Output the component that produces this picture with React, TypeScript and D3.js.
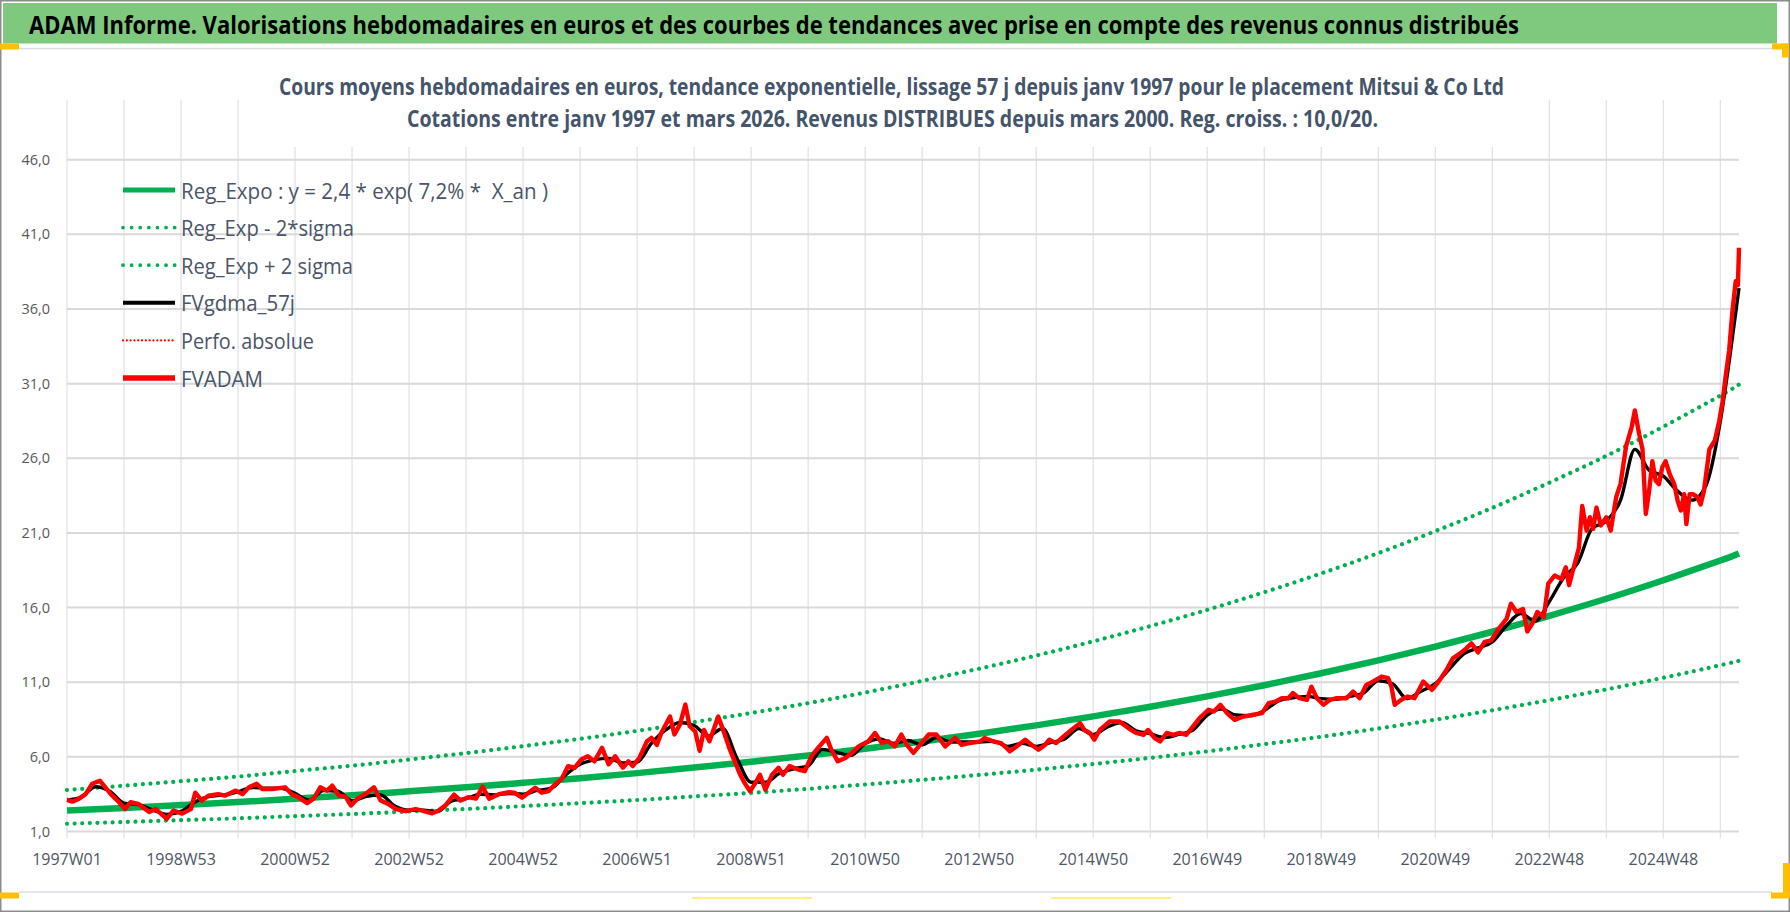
import * as d3 from "d3";

// ADAM weekly valuation chart (Mitsui & Co Ltd), rebuilt with d3 scales and shapes

const N_WEEKS = 1526; // 1997W01 .. mars 2026
const TICK_STEP = 52;
const LABEL_STEP = 104;
const Y_MIN = 1;
const Y_MAX = 50;

const xTickLabels = [
  "1997W01", "1998W53", "2000W52", "2002W52", "2004W52", "2006W51", "2008W51", "2010W50",
  "2012W50", "2014W50", "2016W49", "2018W49", "2020W49", "2022W48", "2024W48",
];
const yTicks = [1, 6, 11, 16, 21, 26, 31, 36, 41, 46];

const legendLabels = [
  "Reg_Expo : y = 2,4 * exp( 7,2% *  X_an )",
  "Reg_Exp - 2*sigma",
  "Reg_Exp + 2 sigma",
  "FVgdma_57j",
  "Perfo. absolue",
  "FVADAM",
];

// trend curves, read at every yearly gridline (week 0, 52, ...) and at the last week
const trendWeeks = [...d3.range(0, N_WEEKS, TICK_STEP), N_WEEKS - 1];
const regExpo = [
  2.4, 2.58, 2.77, 2.97, 3.2, 3.43, 3.69, 3.96, 4.26, 4.57, 4.91, 5.28, 5.67, 6.09, 6.54, 7.03,
  7.55, 8.11, 8.71, 9.36, 10.05, 10.8, 11.6, 12.46, 13.39, 14.38, 15.45, 16.59, 17.83, 19.15, 19.62,
];
const regExpLow = [
  1.52, 1.64, 1.76, 1.88, 2.03, 2.17, 2.34, 2.51, 2.7, 2.9, 3.11, 3.35, 3.59, 3.86, 4.15, 4.46,
  4.79, 5.14, 5.52, 5.93, 6.37, 6.85, 7.35, 7.9, 8.49, 9.12, 9.8, 10.52, 11.3, 12.14, 12.44,
];
const regExpHigh = [
  3.78, 4.07, 4.37, 4.68, 5.05, 5.41, 5.82, 6.25, 6.72, 7.21, 7.74, 8.33, 8.94, 9.6, 10.31, 11.09,
  11.91, 12.79, 13.74, 14.76, 15.85, 17.03, 18.29, 19.65, 21.12, 22.68, 24.37, 26.16, 28.12, 30.2, 30.94,
];

// FVADAM: [week index, value]
const fvadam: [number, number][] = [
  [0, 3.12], [5, 3.0], [11, 3.2], [17, 3.5], [23, 4.2], [30, 4.4], [35, 3.96], [40, 3.5], [46, 3.07],
  [53, 2.5], [58, 2.96], [65, 2.85], [75, 2.3], [81, 2.5], [91, 1.85], [97, 2.4], [105, 2.2],
  [113, 2.5], [117, 3.6], [123, 3.07], [129, 3.4], [138, 3.5], [144, 3.4], [154, 3.74], [160, 3.5],
  [166, 3.96], [173, 4.2], [178, 3.85], [187, 3.85], [199, 3.96], [205, 3.5], [211, 3.3], [219, 2.9],
  [225, 3.2], [231, 3.96], [237, 3.74], [242, 4.07], [248, 3.4], [254, 3.34], [259, 2.74], [265, 3.2],
  [272, 3.5], [280, 3.96], [286, 3.07], [293, 2.85], [300, 2.5], [309, 2.36], [318, 2.5], [324, 2.4],
  [333, 2.22], [339, 2.4], [345, 2.74], [353, 3.47], [359, 3.07], [366, 3.3], [373, 3.2], [379, 4.0],
  [385, 3.2], [394, 3.5], [403, 3.63],
  [408, 3.6], [415, 3.26], [427, 3.93], [433, 3.6], [439, 3.7], [445, 4.15], [451, 4.5], [457, 5.38],
  [463, 5.27], [469, 5.82], [475, 6.04], [481, 5.7], [488, 6.6], [494, 5.5], [500, 6.04], [507, 5.27],
  [512, 5.7], [516, 5.38], [522, 5.93], [529, 7.05], [533, 7.27], [538, 6.8], [542, 7.6], [550, 8.7],
  [554, 7.5], [559, 8.16], [564, 9.5], [568, 8.05], [573, 7.7], [577, 6.4], [581, 7.8], [586, 7.05],
  [594, 8.7], [598, 7.9], [604, 6.6], [609, 5.7], [614, 4.8], [618, 4.26], [623, 3.7], [628, 4.26],
  [632, 4.8], [637, 3.8], [643, 4.8], [649, 5.27], [653, 4.8], [659, 5.38], [667, 5.15], [673, 5.04],
  [679, 6.04], [685, 6.6], [693, 7.27], [697, 6.5], [703, 5.7], [710, 5.93], [716, 6.27], [722, 6.7],
  [731, 7.05], [737, 7.6], [743, 6.94], [749, 7.05], [755, 6.7], [761, 7.5], [766, 6.8], [772, 6.27],
  [778, 6.8], [786, 7.5], [793, 7.5], [801, 6.7], [810, 7.27], [816, 6.8],
  [823, 6.92], [833, 7.03], [837, 7.26], [845, 7.03], [852, 6.92], [857, 6.59], [860, 6.37], [866, 6.7],
  [874, 7.15], [880, 6.8], [886, 6.48], [892, 6.8], [896, 7.15], [902, 6.92], [909, 7.37], [916, 7.8],
  [924, 8.26], [928, 7.8], [933, 7.6], [937, 7.15], [942, 7.8], [951, 8.37], [960, 8.37], [968, 7.93],
  [975, 7.6], [982, 7.48], [986, 7.8], [992, 7.26], [997, 7.03], [1003, 7.6], [1009, 7.48], [1015, 7.6],
  [1021, 7.48], [1027, 8.04], [1033, 8.6], [1041, 9.15], [1046, 9.04], [1052, 9.49], [1058, 8.93],
  [1065, 8.48], [1073, 8.7], [1082, 8.82], [1090, 8.93], [1096, 9.6], [1102, 9.7], [1108, 9.93],
  [1114, 9.93], [1118, 10.27], [1124, 9.93], [1131, 9.82], [1135, 10.7], [1140, 9.93], [1146, 9.49],
  [1152, 9.82], [1158, 9.93], [1167, 9.93], [1173, 10.38], [1179, 9.93], [1185, 10.82], [1191, 11.04],
  [1199, 11.38], [1205, 11.27], [1208, 10.7], [1211, 9.49], [1217, 9.82], [1223, 10.04], [1229, 9.93],
  [1237, 11.04], [1245, 10.49], [1251, 11.04],
  [1258, 11.8], [1264, 12.6], [1270, 12.9], [1276, 13.25], [1281, 13.6], [1287, 13.0], [1293, 13.7],
  [1299, 13.8], [1305, 14.5], [1313, 15.25], [1317, 16.26], [1322, 15.7], [1328, 15.9], [1332, 14.4],
  [1337, 15.0], [1341, 15.7], [1347, 15.37], [1351, 17.6], [1357, 18.15], [1363, 17.9], [1367, 18.7],
  [1370, 17.5], [1375, 18.9], [1379, 20.0], [1382, 22.8], [1386, 21.15], [1389, 22.05], [1392, 21.27],
  [1395, 22.7], [1399, 21.5], [1404, 22.05], [1408, 21.15], [1413, 23.4], [1417, 24.3], [1422, 26.8],
  [1427, 28.06], [1430, 29.2], [1434, 27.6], [1437, 26.6], [1440, 22.27], [1443, 23.8], [1446, 25.8],
  [1449, 24.5], [1452, 24.27], [1455, 25.4], [1458, 25.8], [1462, 24.9], [1466, 24.27], [1469, 23.16],
  [1472, 22.5], [1475, 23.6], [1477, 21.6], [1480, 23.6], [1483, 23.6], [1487, 23.4], [1490, 22.9],
  [1493, 23.8], [1498, 26.6], [1503, 27.2], [1507, 28.5], [1510, 29.8], [1513, 31.6], [1516, 33.2],
  [1519, 35.85], [1522, 37.86], [1524, 37.6], [1525, 40.1],
];

// FVgdma_57j (smoothed curve, mostly hidden under FVADAM)
const fvgdma: [number, number][] = [
  [0, 3.1], [13, 3.3], [26, 4.0], [39, 3.7], [52, 2.9], [65, 2.8], [78, 2.45], [91, 2.15],
  [104, 2.35], [117, 3.0], [130, 3.35], [143, 3.45], [156, 3.65], [169, 3.95], [182, 3.9],
  [195, 3.9], [208, 3.55], [221, 3.1], [234, 3.75], [247, 3.7], [260, 3.05], [273, 3.35],
  [286, 3.45], [299, 2.7], [312, 2.42], [325, 2.42], [338, 2.35], [351, 3.05], [364, 3.2],
  [377, 3.5], [390, 3.45], [403, 3.55], [416, 3.5], [429, 3.75], [442, 3.9], [455, 4.8],
  [468, 5.5], [481, 5.8], [494, 5.9], [507, 5.6], [520, 5.65], [533, 6.9], [546, 7.8], [559, 8.3],
  [572, 8.1], [585, 7.4], [598, 7.9], [611, 5.9], [624, 4.3], [637, 4.3], [650, 4.9], [663, 5.2],
  [676, 5.4], [689, 6.5], [702, 6.3], [715, 6.1], [728, 6.9], [741, 7.2], [754, 6.9], [767, 7.1],
  [780, 6.8], [793, 7.3], [806, 7.0], [819, 7.0], [832, 7.0], [845, 7.05], [858, 6.7], [871, 6.9],
  [884, 6.7], [897, 6.95], [910, 7.2], [923, 7.9], [936, 7.5], [949, 8.0], [962, 8.3], [975, 7.75],
  [988, 7.55], [1001, 7.3], [1014, 7.5], [1027, 7.8], [1040, 8.8], [1053, 9.2], [1066, 8.8],
  [1079, 8.75], [1092, 9.1], [1105, 9.75], [1118, 9.95], [1131, 10.05], [1144, 9.9], [1157, 9.85],
  [1170, 10.05], [1183, 10.3], [1196, 11.1], [1209, 10.9], [1222, 9.9], [1235, 10.4], [1248, 10.9],
  [1261, 11.9], [1274, 12.9], [1287, 13.3], [1300, 13.7], [1313, 14.8], [1326, 15.6], [1339, 15.1],
  [1352, 16.4], [1365, 18.0], [1378, 19.0], [1391, 21.3], [1404, 21.8], [1417, 23.2], [1430, 26.6],
  [1443, 25.2], [1456, 24.8], [1469, 23.8], [1482, 23.2], [1495, 24.2], [1508, 28.5], [1517, 33.0],
  [1525, 37.4],
];

const W = 1790;
const H = 912;
const PLOT = { left: 67, right: 1739, top: 100, bottom: 831.5 };

const GREEN = "#00B050";
const RED = "#FF0000";
const FONT = "'Open Sans', 'Noto Sans', sans-serif";

const frFormat = d3.formatLocale({
  decimal: ",",
  thousands: " ",
  grouping: [3],
  currency: ["", " €"],
}).format(".1f");

const App = () => {
  const x = d3.scaleLinear().domain([0, N_WEEKS - 1]).range([PLOT.left, PLOT.right]);
  const y = d3.scaleLinear().domain([Y_MIN, Y_MAX]).range([PLOT.bottom, PLOT.top]);

  const rawLine = d3
    .line<[number, number]>()
    .x((d) => x(d[0]))
    .y((d) => y(d[1]));
  const curveLine = d3
    .line<[number, number]>()
    .x((d) => x(d[0]))
    .y((d) => y(d[1]))
    .curve(d3.curveNatural);
  const smoothLine = d3
    .line<[number, number]>()
    .x((d) => x(d[0]))
    .y((d) => y(d[1]))
    .curve(d3.curveMonotoneX);

  const toPairs = (vals: number[]) => trendWeeks.map((w, i) => [w, vals[i]] as [number, number]);

  const gridWeeks = d3.range(0, N_WEEKS, TICK_STEP);
  const labelWeeks = d3.range(0, N_WEEKS, LABEL_STEP);

  // legend swatches
  const legendRowY = (i: number) => 190 + i * 37.6;
  const legendTextLen = [367, 173, 172, 114, 133, 82];
  const swatch = [
    { stroke: GREEN, width: 5, dash: undefined, cap: "butt" },
    { stroke: GREEN, width: 3.8, dash: "0.01 8.6", cap: "round" },
    { stroke: GREEN, width: 3.8, dash: "0.01 8.6", cap: "round" },
    { stroke: "#000", width: 4, dash: undefined, cap: "butt" },
    { stroke: RED, width: 2.2, dash: "0.01 3.8", cap: "round" },
    { stroke: RED, width: 5.5, dash: undefined, cap: "butt" },
  ];

  return (
    <svg
      width={W}
      height={H}
      viewBox={`0 0 ${W} ${H}`}
      style={{ position: "absolute", left: 0, top: 0, display: "block", fontFamily: FONT }}
    >
      <rect x={0} y={0} width={W} height={H} fill="#fff" />
      <rect x={0.75} y={0.75} width={W - 1.5} height={H - 1.5} fill="none" stroke="#8c8c8c" strokeWidth={1.5} />

      {/* green header */}
      <rect x={3} y={3} width={1774} height={40.5} fill="#7fc97f" />
      <text
        x={29}
        y={34}
        fontSize={25}
        fontWeight={700}
        fill="#000"
        textLength={1490}
        lengthAdjust="spacingAndGlyphs"
      >
        ADAM Informe. Valorisations hebdomadaires en euros et des courbes de tendances avec prise en compte des revenus connus distribués
      </text>

      {/* chart area borders and selection marks */}
      <line x1={19} x2={1772} y1={48.5} y2={48.5} stroke="#d9dde3" strokeWidth={1.5} />
      <line x1={19} x2={1772} y1={892} y2={892} stroke="#d9dde3" strokeWidth={1.5} />
      <rect x={0} y={43.5} width={19} height={6} fill="#FFC000" />
      <rect x={1772} y={43.5} width={17} height={6} fill="#FFC000" />
      <rect x={1782} y={43.5} width={7} height={14} fill="#FFC000" />
      <rect x={0} y={892.5} width={19} height={6} fill="#FFC000" />
      <rect x={1771} y={892.5} width={19} height={6} fill="#FFC000" />
      <rect x={1783} y={863} width={7} height={35} fill="#FFC000" />
      <line x1={692} x2={812} y1={898} y2={898} stroke="#fff27a" strokeWidth={2} />
      <line x1={1051} x2={1171} y1={898} y2={898} stroke="#fff27a" strokeWidth={2} />

      {/* gridlines */}
      {gridWeeks.map((w) => (
        <line key={`v${w}`} x1={x(w)} x2={x(w)} y1={PLOT.top} y2={PLOT.bottom + 7} stroke="#dfe3ea" strokeWidth={1.3} />
      ))}
      {yTicks.map((t) => (
        <line key={`h${t}`} x1={PLOT.left} x2={PLOT.right} y1={y(t)} y2={y(t)} stroke="#d9d9d9" strokeWidth={2} />
      ))}

      {/* axis labels */}
      {yTicks.map((t) => (
        <text key={`yl${t}`} x={50} y={y(t)} dy="0.35em" textAnchor="end" fontSize={14.5} fill="#595959">
          {frFormat(t)}
        </text>
      ))}
      {labelWeeks.map((w, i) => (
        <text key={`xl${w}`} x={x(w)} y={865} textAnchor="middle" fontSize={16} fill="#4d5666">
          {xTickLabels[i]}
        </text>
      ))}

      {/* chart title (white box over the gridlines) */}
      <rect x={270} y={58} width={1245} height={89} fill="#fff" />
      <text x={279} y={94.5} fontSize={23} fontWeight={700} fill="#44546A" textLength={1225} lengthAdjust="spacingAndGlyphs">
        Cours moyens hebdomadaires en euros, tendance exponentielle, lissage 57 j depuis janv 1997 pour le placement Mitsui &amp; Co Ltd
      </text>
      <text x={407} y={126.5} fontSize={23} fontWeight={700} fill="#44546A" textLength={971} lengthAdjust="spacingAndGlyphs">
        Cotations entre janv 1997 et mars 2026. Revenus DISTRIBUES depuis mars 2000. Reg. croiss. : 10,0/20.
      </text>

      {/* legend */}
      {legendLabels.map((lab, i) => {
        const s = swatch[i];
        const cy = legendRowY(i);
        return (
          <g key={lab}>
            <line
              x1={123}
              x2={175}
              y1={cy}
              y2={cy}
              stroke={s.stroke}
              strokeWidth={s.width}
              strokeDasharray={s.dash}
              strokeLinecap={s.cap as any}
            />
            <text
              x={181}
              y={cy + 8.5}
              fontSize={22}
              fill="#4a5568"
              textLength={legendTextLen[i]}
              lengthAdjust="spacingAndGlyphs"
              style={{ whiteSpace: "pre" }}
            >
              {lab}
            </text>
          </g>
        );
      })}

      {/* series */}
      <path d={curveLine(toPairs(regExpo)) ?? ""} fill="none" stroke={GREEN} strokeWidth={6.5} />
      <path
        d={curveLine(toPairs(regExpLow)) ?? ""}
        fill="none"
        stroke={GREEN}
        strokeWidth={4.2}
        strokeDasharray="0.01 7.6"
        strokeLinecap="round"
      />
      <path
        d={curveLine(toPairs(regExpHigh)) ?? ""}
        fill="none"
        stroke={GREEN}
        strokeWidth={4.2}
        strokeDasharray="0.01 7.6"
        strokeLinecap="round"
      />
      <path d={smoothLine(fvgdma) ?? ""} fill="none" stroke="#000" strokeWidth={3.4} strokeLinejoin="round" />
      <path d={rawLine(fvadam) ?? ""} fill="none" stroke={RED} strokeWidth={4.4} strokeLinejoin="round" />
    </svg>
  );
};

export default App;
